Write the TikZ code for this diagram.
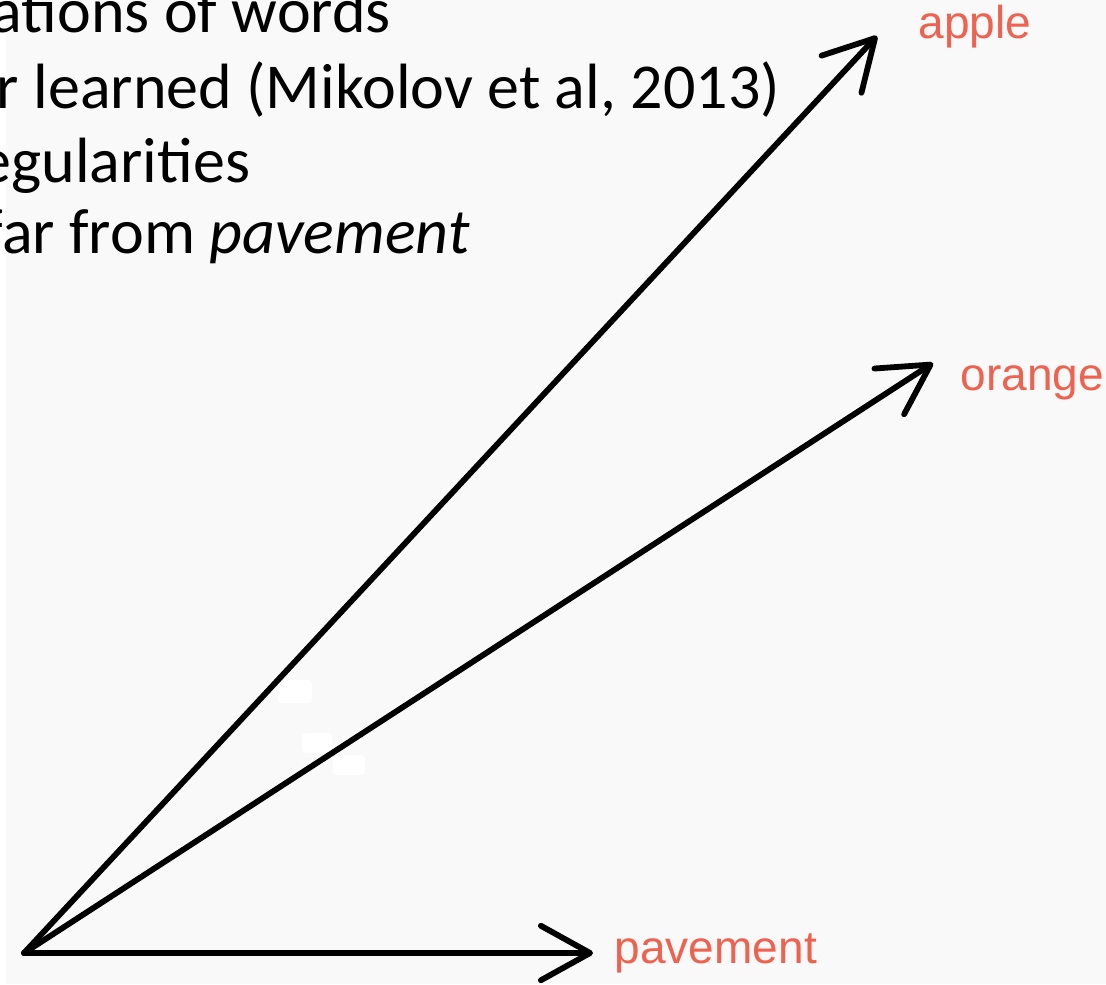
\documentclass[tikz,border=0pt]{standalone}
\usepackage{fontspec}
\setmainfont{Carlito}
\newfontfamily\labelfont{Liberation Sans}
\usetikzlibrary{arrows.meta}
\definecolor{wordred}{RGB}{238,98,80}
\definecolor{slidegray}{RGB}{249,249,249}
\tikzset{
  vec/.style={line width=1.65pt, line cap=round,
    -{Straight Barb[length=14pt,width=15.5pt,line cap=round,line join=round]}},
  word/.style={font=\labelfont\fontsize{13.1}{15}\selectfont, text=wordred,
    inner sep=0pt, anchor=base west},
  bullet/.style={font=\fontsize{18.2}{21}\selectfont, inner sep=0pt, anchor=base west},
}
\begin{document}
\begin{tikzpicture}[x=0.01cm,y=-0.01cm]
      \useasboundingbox (0,0) rectangle (1106,984);
      \fill[slidegray] (6,0) rectangle (1106,984);
      \fill[white, rounded corners=1pt]
        (278,680) rectangle (312,703)
        (302,733) rectangle (332,753)
        (333,755) rectangle (365,775);
      % slide text, cut at the left edge
      \draw
        (-9,32) node[bullet] (line1) {ations of words}
        (-4,108) node[bullet] (line2) {r learned (Mikolov et al, 2013)}
        (-21,182) node[bullet] (line3) {egularities}
        (-17,253) node[bullet] (line4) {far from \textit{pavement}};
      % word vectors
      \coordinate (origin) at (24,953);
      \coordinate (appletip) at (877,36);
      \coordinate (orangetip) at (933,363);
      \coordinate (pavementtip) at (593,953);
      \draw
        (918,38) node[word] (apple){apple}
        (960,390) node[word] (orange){orange}
        (614,963) node[word] (pavement){pavement};
      \begin{scope}[vec]
        \draw (origin) to (appletip);
        \draw (origin) to (orangetip);
        \draw (origin) to (pavementtip);
      \end{scope}
    \end{tikzpicture}
\end{document}
